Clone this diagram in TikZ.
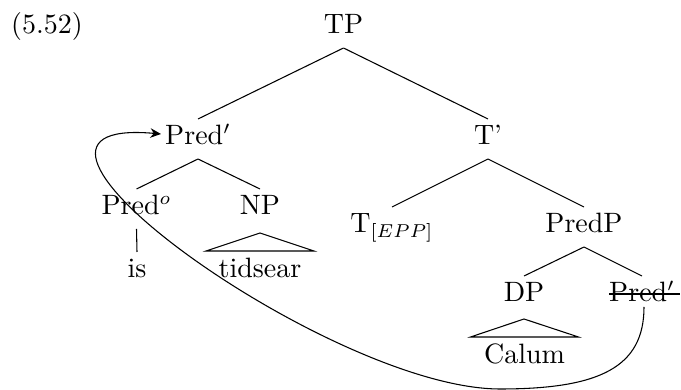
\documentclass[tikz,border=0pt]{standalone}
\usetikzlibrary{calc,arrows.meta}
\begin{document}
\begin{tikzpicture}[x=0.375pt,y=-0.375pt,
  lab/.style={inner sep=0pt,outer sep=0pt,text height=9.75pt,text depth=5.25pt,anchor=base,
    font=\fontsize{10.5pt}{12.6pt}\selectfont},
  branch/.style={line width=0.4pt},
  movement/.style={line width=0.4pt,-{Stealth[length=4pt,width=3.6pt]}}]
\useasboundingbox (0,0) rectangle (681,390);
% labels
\node[lab] (ex) at (47,34) {(5.52)};
\node[lab] (TP) at (343.5,34) {TP};
\node[lab] (PredBar) at (198,145) {Pred$'$};
\node[lab] (TBar) at (488,145) {T'};
\node[lab] (Pred0) at (136.5,215) {Pred$^o$};
\node[lab] (NP) at (260,215) {NP};
\node[lab] (is) at (137,278) {is};
\node[lab] (tids) at (260,278) {tidsear};
\node[lab] (T) at (392,233) {T$_{[EPP]}$};
\node[lab] (PredP) at (584,233) {PredP};
\node[lab] (DP) at (524,302) {DP};
\node[lab] (PredCopy) at (642,302) {Pred$'$};
\node[lab] (Calum) at (524.5,364) {Calum};
% branches
\draw[branch] (TP.south) -- (PredBar.north);
\draw[branch] (TP.south) -- (TBar.north);
\draw[branch] (PredBar.south) -- (Pred0.north);
\draw[branch] (PredBar.south) -- (NP.north);
\draw[branch] (Pred0.south) -- (is.north);
\draw[branch] (TBar.south) -- (T.north);
\draw[branch] (TBar.south) -- (PredP.north);
\draw[branch] (PredP.south) -- (DP.north);
\draw[branch] (PredP.south) -- (PredCopy.north);
% triangles
\draw[branch] ($(NP.base)+(0,18)$) -- ($(tids.base)+(-54,-27)$) -- ($(tids.base)+(54,-27)$) -- cycle;
\draw[branch] ($(DP.base)+(0,17)$) -- ($(Calum.base)+(-54,-27)$) -- ($(Calum.base)+(54,-27)$) -- cycle;
% strike-through of the copy
\draw[line width=0.5pt] ($(PredCopy.base)+(-33,-8)$) -- ($(PredCopy.base)+(38,-8)$);
% movement arrow
\draw[movement] ($(PredCopy.base)+(2,5)$) .. controls +(0,60) and (600,389) .. (500,389)
  .. controls (330,389) and (-50,115) .. ($(PredBar.base)+(-37,-11)$);
\end{tikzpicture}
\end{document}
